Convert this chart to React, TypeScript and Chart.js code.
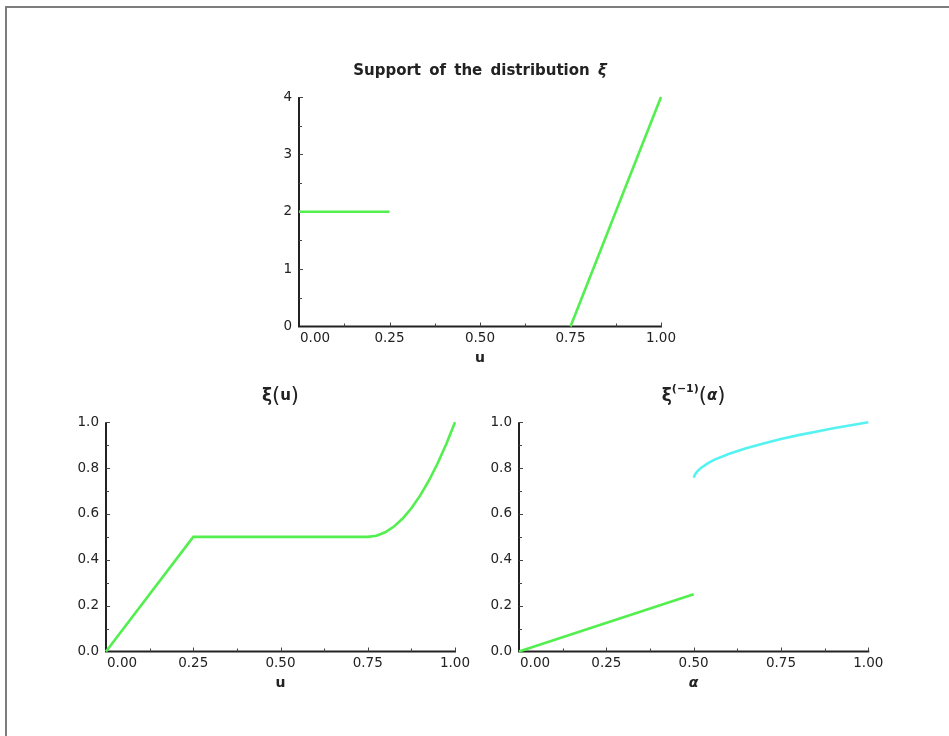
import React, { useEffect, useRef } from "react";
import { Chart, registerables } from "chart.js";

Chart.register(...registerables);

// ---------- data ----------
// Top chart: support of the distribution ξ
const supportLeftU = [0, 0.25];
const supportLeftV = [2, 2];
const supportRightU = [0.75, 1];
const supportRightV = [0, 4];

// Bottom-left: ξ(u)
const xiU = [0, 0.25, 0.75, 0.775, 0.8, 0.825, 0.85, 0.875, 0.9, 0.925, 0.95, 0.975, 1];
const xiV = [0, 0.5, 0.5, 0.505, 0.52, 0.545, 0.58, 0.625, 0.68, 0.745, 0.82, 0.905, 1];

// Bottom-right: ξ^(-1)(α)
const invLowA = [0, 0.5];
const invLowV = [0, 0.25];
const invHighA = [0.5005, 0.502, 0.505, 0.51, 0.52, 0.54, 0.56, 0.6, 0.65, 0.7, 0.75, 0.8, 0.85, 0.9, 0.95, 1];
const invHighV = [0.758, 0.766, 0.775, 0.785, 0.8, 0.821, 0.837, 0.862, 0.887, 0.908, 0.927, 0.944, 0.959, 0.974, 0.987, 1];

// ticks
const xTicks = [0, 0.25, 0.5, 0.75, 1];
const xTickLabels = ["0.00", "0.25", "0.50", "0.75", "1.00"];
const xMinor = [0.125, 0.375, 0.625, 0.875];
const topYTicks = [0, 1, 2, 3, 4];
const topYTickLabels = ["0", "1", "2", "3", "4"];
const topYMinor = [0.5, 1.5, 2.5, 3.5];
const botYTicks = [0, 0.2, 0.4, 0.6, 0.8, 1.0];
const botYTickLabels = ["0.0", "0.2", "0.4", "0.6", "0.8", "1.0"];
const botYMinor = [0.1, 0.3, 0.5, 0.7, 0.9];

const GREEN = "#52ef4f";
const CYAN = "#55f2f2";
const AXIS = "#222222";
const FONT = "'DejaVu Sans', sans-serif";

type Seg = { t: string; font: string; dy?: number };

interface PanelCfg {
  yMax: number;
  yTicks: number[];
  yLabels: string[];
  yMinor: number[];
  title: Seg[];
  titleOffset: number;
  xTitle: Seg[];
}

function drawSegs(ctx: CanvasRenderingContext2D, segs: Seg[], cx: number, cy: number) {
  let total = 0;
  const widths = segs.map((s) => {
    ctx.font = s.font;
    const w = ctx.measureText(s.t).width;
    total += w;
    return w;
  });
  let x = cx - total / 2;
  ctx.textBaseline = "middle";
  ctx.textAlign = "left";
  segs.forEach((s, i) => {
    ctx.font = s.font;
    ctx.fillText(s.t, x, cy + (s.dy || 0));
    x += widths[i];
  });
}

function makePlugin(cfg: PanelCfg) {
  return {
    id: "mmaAxes",
    beforeDatasetsDraw(chart: any) {
      const ctx: CanvasRenderingContext2D = chart.ctx;
      const xs = chart.scales.x;
      const ys = chart.scales.y;
      const x0 = xs.getPixelForValue(0);
      const x1 = xs.getPixelForValue(1);
      const y0 = ys.getPixelForValue(0);
      const yT = ys.getPixelForValue(cfg.yMax);
      ctx.save();
      ctx.strokeStyle = AXIS;
      ctx.lineWidth = 2;
      ctx.beginPath();
      ctx.moveTo(x0, y0);
      ctx.lineTo(x1 + 1, y0);
      ctx.moveTo(x0, y0 + 1);
      ctx.lineTo(x0, yT);
      ctx.stroke();

      ctx.lineWidth = 1;
      ctx.strokeStyle = "#444";
      ctx.beginPath();
      xTicks.forEach((v) => {
        if (v === 0) return;
        const p = Math.round(xs.getPixelForValue(v)) + 0.5;
        ctx.moveTo(p, y0);
        ctx.lineTo(p, y0 - 4);
      });
      xMinor.forEach((v) => {
        const p = Math.round(xs.getPixelForValue(v)) + 0.5;
        ctx.moveTo(p, y0);
        ctx.lineTo(p, y0 - 3);
      });
      cfg.yTicks.forEach((v) => {
        if (v === 0) return;
        const p = Math.round(ys.getPixelForValue(v)) + 0.5;
        ctx.moveTo(x0, p);
        ctx.lineTo(x0 + 4, p);
      });
      cfg.yMinor.forEach((v) => {
        const p = Math.round(ys.getPixelForValue(v)) + 0.5;
        ctx.moveTo(x0, p);
        ctx.lineTo(x0 + 3, p);
      });
      ctx.stroke();

      // tick labels
      ctx.fillStyle = "#222";
      ctx.font = `13.5px ${FONT}`;
      ctx.textBaseline = "middle";
      xTicks.forEach((v, i) => {
        const p = xs.getPixelForValue(v);
        if (i === 0) {
          ctx.textAlign = "left";
          ctx.fillText(xTickLabels[i], p + 1, y0 + 12);
        } else {
          ctx.textAlign = "center";
          ctx.fillText(xTickLabels[i], p, y0 + 12);
        }
      });
      ctx.textAlign = "right";
      cfg.yTicks.forEach((v, i) => {
        const p = ys.getPixelForValue(v);
        ctx.fillText(cfg.yLabels[i], x0 - 7, p);
      });

      // title and axis label
      const cx = (x0 + x1) / 2;
      drawSegs(ctx, cfg.title, cx, yT - cfg.titleOffset);
      drawSegs(ctx, cfg.xTitle, cx, y0 + 32);
      ctx.restore();
    },
  };
}

function line(xs: number[], ys: number[], color: string) {
  return {
    data: xs.map((x, i) => ({ x, y: ys[i] })),
    showLine: true,
    borderColor: color,
    backgroundColor: color,
    borderWidth: 2.6,
    pointRadius: 0,
    pointHoverRadius: 0,
    tension: 0,
    clip: false as any,
  };
}

interface PanelProps {
  left: number;
  top: number;
  width: number;
  height: number;
  padding: { left: number; right: number; top: number; bottom: number };
  datasets: any[];
  cfg: PanelCfg;
}

function Panel({ left, top, width, height, padding, datasets, cfg }: PanelProps) {
  const ref = useRef<HTMLCanvasElement | null>(null);
  useEffect(() => {
    if (!ref.current) return;
    const chart = new Chart(ref.current, {
      type: "scatter",
      data: { datasets },
      options: {
        responsive: false,
        animation: false,
        devicePixelRatio: 1,
        layout: { padding },
        plugins: { legend: { display: false }, tooltip: { enabled: false }, title: { display: false } },
        events: [],
        scales: {
          x: { type: "linear", min: 0, max: 1, display: false },
          y: { type: "linear", min: 0, max: cfg.yMax, display: false },
        },
      },
      plugins: [makePlugin(cfg)],
    } as any);
    return () => chart.destroy();
  }, []);
  return (
    <canvas
      ref={ref}
      width={width}
      height={height}
      style={{ position: "absolute", left, top, width, height }}
    />
  );
}

export default function App() {
  return (
    <div>
      <div
        style={{
          position: "absolute",
          left: 5,
          top: 6,
          width: 944,
          height: 730,
          boxSizing: "border-box",
          borderTop: "2px solid #7d7d7d",
          borderLeft: "2px solid #7d7d7d",
          background: "#fff",
        }}
      />
      <Panel
        left={230}
        top={40}
        width={480}
        height={340}
        padding={{ left: 69, right: 49, top: 57, bottom: 53.5 }}
        datasets={[
          line(supportLeftU, supportLeftV, GREEN),
          line(supportRightU, supportRightV, GREEN),
        ]}
        cfg={{
          yMax: 4,
          yTicks: topYTicks,
          yLabels: topYTickLabels,
          yMinor: topYMinor,
          title: [
            { t: "Support\u2009 of\u2009 the\u2009 distribution\u2009 ", font: `bold 15px ${FONT}` },
            { t: "ξ", font: `italic bold 15px ${FONT}` },
          ],
          titleOffset: 26,
          xTitle: [{ t: "u", font: `bold 14px ${FONT}` }],
        }}
      />
      <Panel
        left={40}
        top={370}
        width={440}
        height={340}
        padding={{ left: 66, right: 25, top: 52.3, bottom: 58.5 }}
        datasets={[line(xiU, xiV, GREEN)]}
        cfg={{
          yMax: 1,
          yTicks: botYTicks,
          yLabels: botYTickLabels,
          yMinor: botYMinor,
          title: [
            { t: "ξ", font: `bold 17px ${FONT}` },
            { t: "(", font: `21px ${FONT}` },
            { t: "u", font: `bold 15px ${FONT}` },
            { t: ")", font: `21px ${FONT}` },
          ],
          titleOffset: 26,
          xTitle: [{ t: "u", font: `bold 14px ${FONT}` }],
        }}
      />
      <Panel
        left={470}
        top={370}
        width={460}
        height={340}
        padding={{ left: 49, right: 61.7, top: 52.3, bottom: 58.5 }}
        datasets={[line(invLowA, invLowV, GREEN), line(invHighA, invHighV, CYAN)]}
        cfg={{
          yMax: 1,
          yTicks: botYTicks,
          yLabels: botYTickLabels,
          yMinor: botYMinor,
          title: [
            { t: "ξ", font: `bold 17px ${FONT}` },
            { t: "(−1)", font: `bold 11px ${FONT}`, dy: -7 },
            { t: "(", font: `21px ${FONT}` },
            { t: "α", font: `italic bold 15px ${FONT}` },
            { t: ")", font: `21px ${FONT}` },
          ],
          titleOffset: 26,
          xTitle: [{ t: "α", font: `italic bold 14px ${FONT}` }],
        }}
      />
    </div>
  );
}
